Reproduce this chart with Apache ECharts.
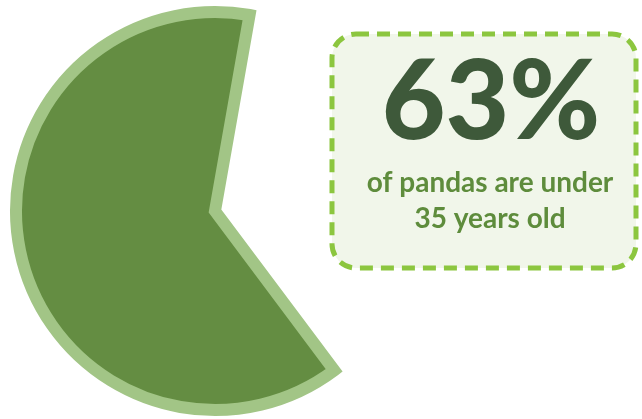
<!DOCTYPE html>
<html>
<head>
<meta charset="utf-8">
<script src="https://cdn.jsdelivr.net/npm/echarts@6/dist/echarts.min.js"></script>
<style>
  html, body { margin: 0; padding: 0; background: #fff; }
  #chart { width: 642px; height: 419px; }
</style>
</head>
<body>
<div id="chart"></div>
<script>
// data
var categories = ['under 35', '35 and over'];
var shares = [63, 37];
var caption = ['of pandas are under', '35 years old'];

var chart = echarts.init(document.getElementById('chart'));

chart.setOption({
  animation: false,
  series: [{
    type: 'pie',
    silent: true,
    center: [215, 211],
    radius: 199,
    startAngle: 80,
    clockwise: false,
    label: { show: false },
    labelLine: { show: false },
    emphasis: { disabled: true },
    data: [
      {
        name: categories[0],
        value: shares[0],
        itemStyle: { color: '#648d42', borderColor: '#a2c586', borderWidth: 12, borderJoin: 'miter' }
      },
      {
        name: categories[1],
        value: shares[1],
        itemStyle: { color: 'transparent', borderWidth: 0 }
      }
    ]
  }],
  graphic: [
    {
      type: 'rect',
      shape: { x: 332, y: 34, width: 304, height: 234, r: 24 },
      style: { fill: '#f1f6ea', stroke: '#8cc63f', lineWidth: 5, lineDash: [13, 8] }
    },
    {
      type: 'text',
      x: 491, y: 104,
      style: {
        text: shares[0] + '%',
        fill: '#3e593a',
        font: '900 110px Lato',
        align: 'center',
        verticalAlign: 'middle'
      }
    },
    {
      type: 'text',
      x: 490, y: 183,
      style: {
        text: caption[0],
        fill: '#5e8c3c',
        font: 'bold 28px Lato',
        align: 'center',
        verticalAlign: 'middle'
      }
    },
    {
      type: 'text',
      x: 490, y: 219,
      style: {
        text: caption[1],
        fill: '#5e8c3c',
        font: 'bold 28px Lato',
        align: 'center',
        verticalAlign: 'middle'
      }
    }
  ]
});
</script>
</body>
</html>
